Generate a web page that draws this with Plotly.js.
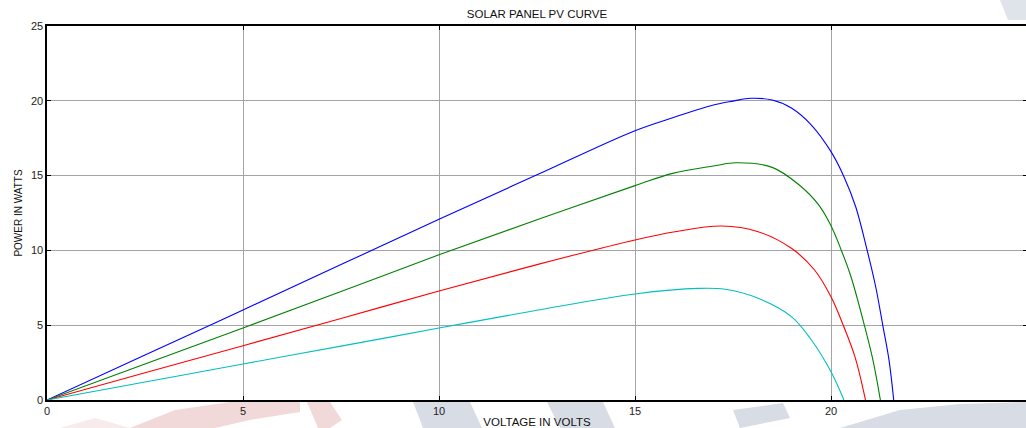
<!DOCTYPE html>
<html>
<head>
<meta charset="utf-8">
<script src="https://cdn.plot.ly/plotly-3.0.1.min.js"></script>
<style>
html,body{margin:0;padding:0;overflow:hidden;background:#fff;}
#chart{width:1028px;height:428px;}
</style>
</head>
<body>
<div id="chart"></div>
<script>
// Series (voltage in volts, power in watts)
const blueV  = [0, 2.5, 5, 7.5, 10, 12.5, 15, 16, 17, 17.5, 17.95, 18.5, 19.0, 19.5, 20.0, 20.33, 20.63, 20.92, 21.14, 21.32, 21.48, 21.6];
const blueP  = [0, 3.0, 6.02, 9.05, 12.08, 15.05, 18.0, 18.9, 19.72, 19.98, 20.17, 20.05, 19.5, 18.38, 16.6, 14.93, 12.92, 10.03, 7.57, 5.01, 2.67, 0];

const greenV = [0, 2.5, 5, 7.5, 10, 12.5, 15, 15.96, 17, 17.57, 18.5, 19.19, 19.69, 20.0, 20.26, 20.51, 20.85, 21.07, 21.26];
const greenP = [0, 2.4, 4.81, 7.25, 9.71, 12.05, 14.33, 15.15, 15.64, 15.86, 15.55, 14.37, 13.03, 11.65, 10.03, 8.24, 5.01, 2.67, 0];

const redV   = [0, 2.5, 5, 7.5, 10, 12.5, 15, 16.02, 17.21, 18.14, 18.99, 19.58, 20.0, 20.31, 20.61, 20.88];
const redP   = [0, 1.82, 3.63, 5.45, 7.29, 9.05, 10.7, 11.25, 11.63, 11.25, 10.14, 8.69, 6.9, 5.01, 2.9, 0];

const cyanV  = [0, 2.5, 5, 7.5, 10, 12.5, 15, 16.62, 17.3, 18.14, 18.99, 19.5, 20.0, 20.33];
const cyanP  = [0, 1.2, 2.41, 3.6, 4.81, 6.0, 7.09, 7.46, 7.4, 6.8, 5.57, 4.01, 1.89, 0];

const xTicks = [0, 5, 10, 15, 20, 25];
const yTicks = [0, 5, 10, 15, 20, 25];

const titleText = 'SOLAR PANEL PV CURVE';
const xTitle = 'VOLTAGE IN VOLTS';
const yTitle = 'POWER IN WATTS';

function mk(x, y, color) {
  return {x: x, y: y, type: 'scatter', mode: 'lines',
          line: {color: color, width: 1.1, shape: 'spline', smoothing: 1},
          hoverinfo: 'skip', showlegend: false};
}

const data = [
  mk(blueV, blueP, '#0000ff'),
  mk(greenV, greenP, '#008000'),
  mk(redV, redP, '#ff0000'),
  mk(cyanV, cyanP, '#00bfbf')
];

// faint background watermark (decoration, pixel positions -> paper coords)
const L = 47, R = 1027, T = 26, B = 400;
function px(p) { return (p - L) / (R - L); }
function py(p) { return (B - p) / (B - T); }
function poly(pts, fill) {
  let d = pts.map((p, i) => (i ? 'L' : 'M') + px(p[0]).toFixed(4) + ',' + py(p[1]).toFixed(4)).join(' ') + ' Z';
  return {type: 'path', xref: 'paper', yref: 'paper', path: d, fillcolor: fill, line: {width: 0}, layer: 'below'};
}
const pink = 'rgba(205,120,120,0.28)';
const grey = 'rgba(110,130,160,0.28)';
const shapes = [
  poly([[130,428],[175,410],[230,402],[300,401],[300,412],[250,420],[215,428]], pink),
  poly([[60,428],[95,418],[130,428]], 'rgba(205,120,120,0.15)'),
  poly([[307,402],[330,402],[342,420],[330,428],[318,428]], pink),
  poly([[413,402],[470,402],[482,428],[423,428]], grey),
  poly([[547,402],[603,402],[615,428],[560,428]], grey),
  poly([[733,410],[783,403],[790,418],[740,428]], grey),
  poly([[840,428],[900,410],[960,404],[1026,402],[1026,428]], grey),
  poly([[1000,0],[1026,0],[1026,20],[1008,20]], 'rgba(110,130,160,0.22)')
];

const axisCommon = {
  showline: true, linecolor: '#000', linewidth: 1.6, mirror: 'ticks',
  ticks: 'inside', ticklen: 4, tickcolor: '#000', tickwidth: 1,
  showgrid: true, gridcolor: '#a4a4a4', gridwidth: 1,
  zeroline: false, fixedrange: true,
  tickfont: {family: 'Liberation Sans, Arial, sans-serif', size: 11, color: '#222'}
};

const layout = {
  width: 1028, height: 428,
  margin: {l: L, r: 1028 - R, t: T, b: 428 - B},
  paper_bgcolor: '#fff', plot_bgcolor: 'rgba(0,0,0,0)',
  font: {family: 'Liberation Sans, Arial, sans-serif', color: '#000'},
  title: {text: titleText, font: {size: 11.5, color: '#111'},
          x: 0.5, xref: 'paper', xanchor: 'center', y: 1 - 14/428, yref: 'container', yanchor: 'middle'},
  xaxis: Object.assign({}, axisCommon, {
    range: [0, 25], tickvals: xTicks, ticktext: xTicks.map(String),
    title: {text: xTitle, font: {size: 11.5, color: '#111'}, standoff: 2}
  }),
  yaxis: Object.assign({}, axisCommon, {
    range: [0, 25], tickvals: yTicks, ticktext: yTicks.map(String),
    title: {text: yTitle, font: {size: 10, color: '#111'}, standoff: 6}
  }),
  shapes: shapes
};

Plotly.newPlot('chart', data, layout, {displayModeBar: false, staticPlot: true});
</script>
</body>
</html>
